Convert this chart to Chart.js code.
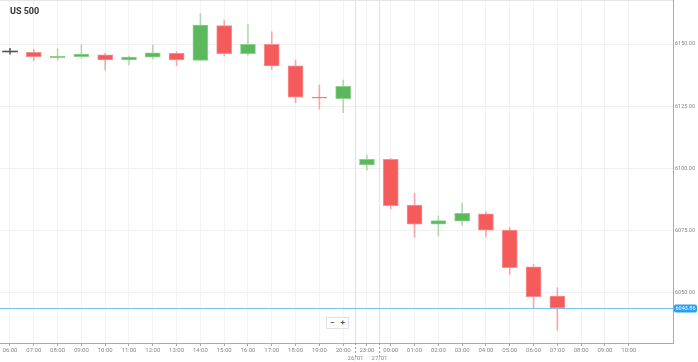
<!DOCTYPE html>
<html><head><meta charset="utf-8">
<script src="https://cdn.jsdelivr.net/npm/chart.js@4/dist/chart.umd.min.js"></script>
<style>
html,body{margin:0;padding:0;background:#fff;}
#wrap{position:relative;width:698px;height:362px;overflow:hidden;}
#c{position:absolute;left:0;top:0;}
#title{position:absolute;left:10px;top:6px;font:bold 9px Roboto, sans-serif;color:#333;}
#zoom{position:absolute;left:326px;top:317px;width:21px;height:10px;border:1px solid #e2e2e2;background:#fff;display:flex;font:bold 8px Roboto, sans-serif;color:#555;line-height:10px;}
#zoom span{flex:1;text-align:center;}
</style></head>
<body>
<div id="wrap">
<canvas id="c" width="698" height="362"></canvas>
<div id="title">US 500</div>
<div id="zoom"><span>−</span><span>+</span></div>
</div>
<script>
const categories = ['06:00','07:00','08:00','09:00','10:00','11:00','12:00','13:00','14:00','15:00','16:00','17:00','18:00','19:00','20:00','23:00','00:00','01:00','02:00','03:00','04:00','05:00','06:00','07:00','08:00','09:00','10:00'];
const openVals  = [6146.8,6146.7,6144.5,6144.9,6145.7,6143.6,6144.7,6146.3,6143.4,6157.4,6146.1,6149.9,6141.2,6128.7,6128.0,6101.4,6103.6,6085.2,6077.6,6078.8,6081.7,6075.2,6060.4,6048.7];
const highVals  = [6148.3,6147.9,6148.1,6149.6,6146.3,6145.2,6149.6,6146.9,6162.3,6159.4,6157.9,6154.9,6143.6,6133.5,6135.5,6105.4,6104.0,6090.0,6080.9,6086.0,6082.6,6076.3,6061.4,6052.0];
const lowVals   = [6145.9,6143.3,6143.6,6144.3,6139.5,6141.6,6144.0,6141.3,6143.4,6145.2,6145.5,6139.8,6126.4,6123.8,6122.4,6099.3,6083.7,6072.3,6072.8,6077.1,6072.5,6057.4,6043.8,6035.0];
const closeVals = [6146.8,6144.9,6145.2,6146.0,6143.6,6144.8,6146.5,6143.6,6157.6,6146.1,6149.9,6141.2,6128.6,6128.2,6133.0,6103.6,6085.0,6077.6,6079.0,6081.9,6075.2,6060.1,6048.4,6043.86];
const yTicks = [6050,6075,6100,6125,6150];
const currentPrice = 6043.86;
const dateLabels = ['26/01','27/01'];
const dateBreakAfter = ['20:00','23:00'];

const GREEN='#5cb85c', RED='#f55b5b', GRAY='#555';
const dir = openVals.map((o,i)=> closeVals[i]===o ? 0 : (closeVals[i]>o?1:-1));
const bodyColors = dir.map(d=> d===0?GRAY:(d>0?GREEN:RED));
const bodyBorders = dir.map(d=> d===0?GRAY:(d>0?'#8fd08f':'#f88e8e'));
const wickColors = dir.map(d=> d===0?'#666':(d>0?'rgba(92,184,92,0.45)':'rgba(245,91,91,0.5)'));

const bodies = openVals.map((o,i)=>({x:i, y:[o, closeVals[i]]}));
const wicks = lowVals.map((l,i)=>({x:i, y:[l, highVals[i]]}));

const overlay = {
  id:'overlay',
  afterDraw(chart){
    const ctx=chart.ctx, xs=chart.scales.x, ys=chart.scales.y, a=chart.chartArea;
    ctx.save();
    ctx.strokeStyle='#e6e6e6'; ctx.lineWidth=1;
    ctx.beginPath(); ctx.moveTo(a.left, a.top+0.5); ctx.lineTo(a.right, a.top+0.5); ctx.stroke();
    dateBreakAfter.forEach((lab,k)=>{
      const idx = categories.indexOf(lab);
      const px = Math.round(xs.getPixelForValue(idx+0.5))+0.5;
      ctx.strokeStyle='#e2e2e2'; ctx.setLineDash([]);
      ctx.beginPath(); ctx.moveTo(px,a.top); ctx.lineTo(px,a.bottom); ctx.stroke();
      ctx.strokeStyle='#999'; ctx.setLineDash([2,2]);
      ctx.beginPath(); ctx.moveTo(px,a.bottom); ctx.lineTo(px,a.bottom+16); ctx.stroke();
      ctx.setLineDash([]);
      ctx.fillStyle='#888'; ctx.font='6px Roboto, sans-serif'; ctx.textAlign='center'; ctx.textBaseline='middle';
      ctx.fillText(dateLabels[k], px, a.bottom+15);
    });
    const py = Math.round(ys.getPixelForValue(currentPrice))+0.5;
    ctx.strokeStyle='#7cc3ee'; ctx.lineWidth=1;
    ctx.beginPath(); ctx.moveTo(a.left,py); ctx.lineTo(a.right,py); ctx.stroke();
    ctx.fillStyle='#2a9df4';
    const bx=a.right+1, bw=23, bh=8;
    ctx.beginPath();
    if (ctx.roundRect) ctx.roundRect(bx, py-bh/2, bw, bh, 2); else ctx.rect(bx, py-bh/2, bw, bh);
    ctx.fill();
    ctx.fillStyle='#fff'; ctx.font='5.5px Roboto, sans-serif'; ctx.textAlign='center'; ctx.textBaseline='middle';
    ctx.fillText(currentPrice.toFixed(2), bx+bw/2, py+0.5);
    ctx.restore();
  }
};

new Chart(document.getElementById('c'), {
  type:'bar',
  data:{ datasets:[
    { data:bodies, backgroundColor:bodyColors, borderColor:bodyBorders, borderWidth:dir.map(d=>d===0?0:1), borderSkipped:false, barThickness:15, minBarLength:1, grouped:false, order:0 },
    { data:wicks, backgroundColor:wickColors, borderWidth:0, barThickness:1, grouped:false, order:1 }
  ]},
  options:{
    responsive:false, animation:false, devicePixelRatio:1,
    layout:{padding:0},
    plugins:{legend:{display:false}, tooltip:{enabled:false}, title:{display:false}},
    scales:{
      x:{ type:'linear', min:-0.42, max:27.86, offset:false,
        afterBuildTicks:s=>{ s.ticks = categories.map((_,i)=>({value:i})); },
        ticks:{ callback:v=>categories[Math.round(v)], font:{size:6, family:'Roboto'}, color:'#888', maxRotation:0, autoSkip:false, padding:1 },
        grid:{ offset:false, color:'#f3f3f3', tickLength:3, tickColor:'#aaa' },
        border:{ color:'#aaa' },
        afterFit:s=>{ s.height=19; s.paddingLeft=0; s.paddingRight=0; }
      },
      y:{ position:'right', min:6029.8, max:6167.7,
        afterBuildTicks:s=>{ s.ticks = yTicks.map(v=>({value:v})); },
        ticks:{ callback:v=>Number(v).toFixed(2), font:{size:5.5, family:'Roboto'}, color:'#888', padding:1 },
        grid:{ color:'#f0f0f0', tickLength:1, tickColor:'#ddd' },
        border:{ color:'#aaa' },
        afterFit:s=>{ s.width=25; s.paddingTop=0; s.paddingBottom=0; }
      }
    }
  },
  plugins:[overlay]
});
</script>
</body></html>
